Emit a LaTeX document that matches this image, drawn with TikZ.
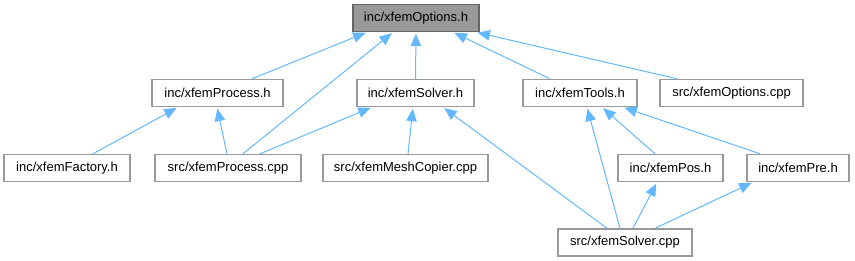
\documentclass[tikz,border=0pt]{standalone}
\usepackage{fontspec}
\setmainfont{Liberation Sans}
\usetikzlibrary{arrows.meta}
\definecolor{edgeblue}{HTML}{63B8FF}
\definecolor{boxgray}{HTML}{999999}
\definecolor{rootgray}{HTML}{666666}
\tikzset{
  incgraph/.style={x=1pt, y=-1pt},
  dbox/.style={draw=boxgray, fill=white, line width=1.4pt, inner sep=0pt,
    minimum height=27pt, font=\fontsize{13}{15}\selectfont},
  droot/.style={dbox, draw=rootgray, fill=boxgray},
  dedge/.style={draw=edgeblue, line width=1pt, shorten >=1.5pt,
    -{Triangle[length=12.5pt, width=10.5pt]}},
}

\begin{document}
\begin{tikzpicture}[incgraph]
  \useasboundingbox (0,0) rectangle (855,261);
  % top
  \node[droot, minimum width=126pt] (opt) at (416,18) {inc/xfemOptions.h};
  % second row
  \node[dbox, minimum width=131pt] (proch) at (217.5,93) {inc/xfemProcess.h};
  \node[dbox, minimum width=117pt] (solvh) at (415.5,93) {inc/xfemSolver.h};
  \node[dbox, minimum width=114pt] (toolsh) at (580,93) {inc/xfemTools.h};
  \node[dbox, minimum width=143pt] (optcpp) at (731.5,93) {src/xfemOptions.cpp};
  % third row
  \node[dbox, minimum width=126pt] (facth) at (67,168) {inc/xfemFactory.h};
  \node[dbox, minimum width=146pt] (proccpp) at (228,168) {src/xfemProcess.cpp};
  \node[dbox, minimum width=165pt] (meshcpp) at (405.5,168) {src/xfemMeshCopier.cpp};
  \node[dbox, minimum width=105pt] (posh) at (670.5,168) {inc/xfemPos.h};
  \node[dbox, minimum width=102pt] (preh) at (798,168) {inc/xfemPre.h};
  % bottom
  \node[dbox, minimum width=134pt] (solvcpp) at (625,242.5) {src/xfemSolver.cpp};
  % includes of xfemOptions.h
  \draw[dedge] ([xshift=34.5pt]proch.north) -- ([xshift=-49pt]opt.south);
  \draw[dedge] ([xshift=15pt]proccpp.north) -- ([xshift=-23pt]opt.south);
  \draw[dedge] (solvh.north) -- (opt.south);
  \draw[dedge] ([xshift=-30pt]toolsh.north) -- ([xshift=37pt]opt.south);
  \draw[dedge] ([xshift=-54.5pt]optcpp.north) -- ([xshift=60pt]opt.south);
  % includes of the headers
  \draw[dedge] ([xshift=26pt]facth.north) -- ([xshift=-39.5pt]proch.south);
  \draw[dedge] ([xshift=-1pt]proccpp.north) -- ([xshift=-0.5pt]proch.south);
  \draw[dedge] ([xshift=32pt]proccpp.north) -- ([xshift=-43.5pt]solvh.south);
  \draw[dedge] ([xshift=2.5pt]meshcpp.north) -- ([xshift=-2.5pt]solvh.south);
  \draw[dedge] ([xshift=-18pt]solvcpp.north) -- ([xshift=27.5pt]solvh.south);
  \draw[dedge] ([xshift=-5pt]solvcpp.north) -- ([xshift=7pt]toolsh.south);
  \draw[dedge] ([xshift=-15.5pt]posh.north) -- ([xshift=22pt]toolsh.south);
  \draw[dedge] ([xshift=-38pt]preh.north) -- ([xshift=43pt]toolsh.south);
  \draw[dedge] ([xshift=8pt]solvcpp.north) -- ([xshift=-13.5pt]posh.south);
  \draw[dedge] ([xshift=30pt]solvcpp.north) -- ([xshift=-45pt]preh.south);
\end{tikzpicture}
\end{document}
